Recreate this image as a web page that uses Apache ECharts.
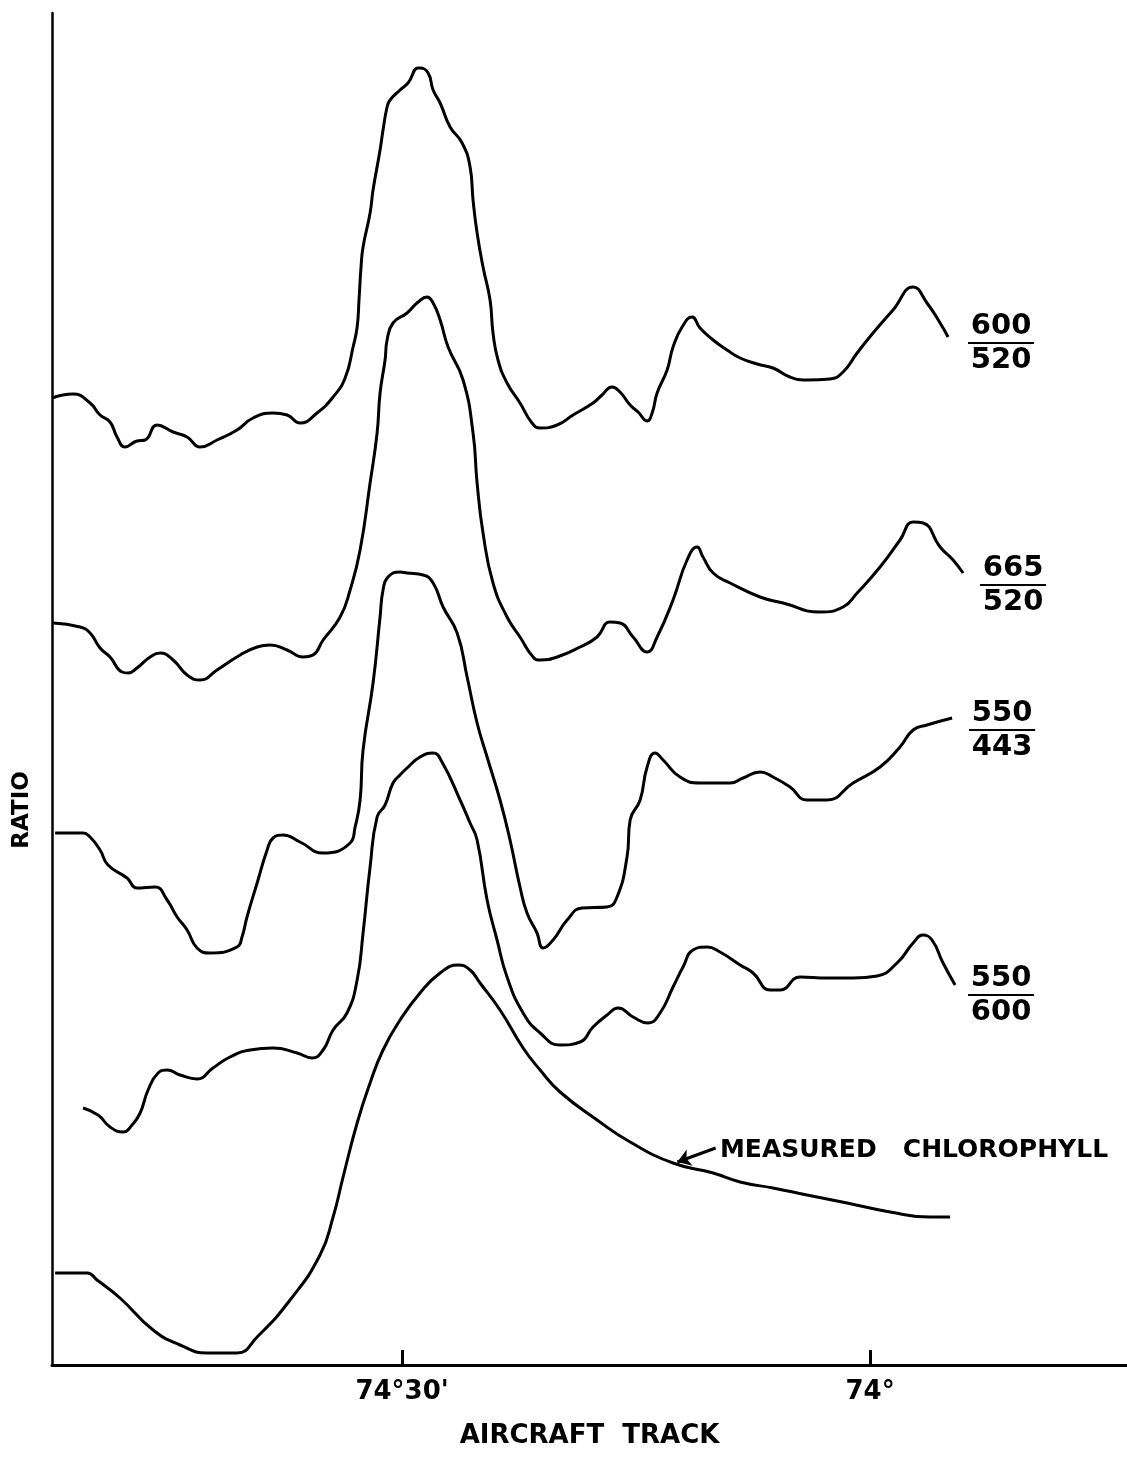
<!DOCTYPE html>
<html><head><meta charset="utf-8">
<script src="https://cdn.jsdelivr.net/npm/echarts@6.0.0/dist/echarts.min.js"></script>
<style>html,body{margin:0;padding:0;background:#fff}#c{width:1127px;height:1457px}</style>
</head><body><div id="c"></div>
<script>
// x: longitude along aircraft track, minutes west of 74°  (30 = 74°30')
// y: ratio (arbitrary offset units)
const tickValues = [30, 0];
const tickLabels = ["74°30'", "74°"];
const seriesNames = ['600/520', '665/520', '550/443', '550/600', 'MEASURED CHLOROPHYLL'];

const ratio600_520 = [[52.44,96.7],[51.09,97.1],[50.0,96.2],[49.36,95.0],[48.72,94.3],[48.27,92.8],[47.76,91.8],[46.99,92.4],[46.47,92.5],[45.71,94.0],[44.68,93.3],[43.78,92.8],[42.95,91.8],[41.86,92.5],[40.58,93.5],[39.55,94.7],[38.27,95.2],[37.37,95.0],[36.54,94.2],[35.45,95.2],[34.42,96.8],[33.65,98.7],[33.14,101.8],[32.88,103.8],[32.76,106.5],[32.63,109.8],[32.50,111.8],[32.05,115.2],[31.86,117.5],[31.41,121.5],[31.22,123.5],[30.96,125.8],[30.77,126.5],[30.13,127.5],[29.62,128.2],[28.97,129.7],[28.85,129.7],[28.33,129.2],[28.01,127.5],[27.56,126.2],[26.92,123.8],[26.15,122.2],[25.64,119.8],[25.45,116.5],[25.19,113.2],[24.81,109.8],[24.36,106.5],[24.17,103.2],[23.85,100.5],[23.27,98.2],[22.44,96.2],[21.67,94.2],[21.15,93.7],[20.06,94.0],[19.04,95.0],[17.76,96.2],[17.18,97.0],[16.54,97.8],[16.03,97.3],[15.38,96.0],[14.87,95.3],[14.29,94.4],[13.97,95.2],[13.65,97.2],[13.01,99.5],[12.63,101.8],[12.05,103.8],[11.41,104.8],[10.90,103.7],[10.06,102.5],[9.17,101.5],[8.33,100.7],[7.24,100.1],[6.22,99.7],[5.13,98.8],[4.04,98.5],[2.56,98.6],[1.73,99.3],[0.83,101.2],[-0.19,103.2],[-1.47,105.5],[-2.76,107.8],[-3.65,106.2],[-4.49,104.2],[-5.0,102.8]];

const ratio665_520 = [[52.37,74.2],[50.64,73.8],[50.0,73.2],[49.36,71.7],[48.72,70.8],[47.95,69.3],[47.56,69.2],[46.99,69.7],[46.15,70.8],[45.51,71.2],[44.68,70.5],[43.78,69.0],[42.95,68.5],[41.86,69.5],[40.38,71.0],[39.29,71.8],[38.46,72.0],[37.37,71.5],[36.35,70.8],[35.71,71.0],[35.06,72.5],[33.97,74.8],[33.33,77.5],[32.69,81.5],[32.05,88.2],[31.60,93.2],[31.41,97.2],[31.09,100.5],[30.96,102.5],[30.58,104.2],[29.68,105.2],[28.97,106.3],[28.40,106.8],[28.01,106.2],[27.56,104.5],[27.05,101.8],[26.09,98.5],[25.45,93.2],[25.19,88.2],[24.81,83.2],[24.17,78.2],[23.27,74.8],[22.44,72.8],[21.60,70.8],[21.15,70.5],[20.06,70.8],[18.59,71.8],[17.50,72.8],[16.67,74.3],[16.03,74.2],[15.19,72.8],[14.29,71.3],[13.65,72.8],[12.63,76.5],[11.73,80.5],[11.09,81.8],[10.71,80.8],[10.06,79.2],[8.97,78.2],[7.05,76.8],[5.58,76.2],[3.21,75.3],[1.73,75.8],[0.83,77.2],[-0.64,79.8],[-1.92,82.5],[-2.76,84.3],[-3.40,84.2],[-4.49,81.8],[-5.32,80.5],[-5.96,79.2]];

const ratio550_443 = [[52.24,53.2],[50.45,53.2],[50.0,52.8],[49.36,51.5],[48.85,50.0],[47.63,48.7],[46.99,47.7],[45.83,47.8],[45.06,46.5],[44.42,44.8],[43.78,43.5],[43.14,41.7],[42.31,41.2],[40.58,41.8],[40.26,42.8],[39.94,44.8],[39.29,48.2],[38.65,51.5],[38.27,52.7],[37.63,53.0],[36.54,52.3],[35.06,51.2],[33.33,52.2],[33.01,53.8],[32.69,56.5],[32.50,61.5],[31.86,68.2],[31.41,74.8],[31.22,77.5],[30.90,78.8],[30.13,79.3],[29.68,79.2],[28.65,79.0],[28.01,78.2],[27.37,75.8],[26.47,73.2],[25.83,68.8],[25.19,64.2],[24.55,60.8],[23.72,56.5],[23.08,52.5],[22.44,47.8],[21.99,45.2],[21.35,43.2],[20.96,41.7],[20.32,42.5],[19.42,44.5],[18.46,45.7],[16.86,45.8],[16.22,46.8],[15.58,50.8],[15.38,54.5],[14.74,56.5],[14.29,59.8],[13.78,61.2],[13.27,60.5],[12.18,58.8],[10.90,58.2],[8.97,58.2],[8.14,58.7],[7.05,59.3],[6.22,58.8],[5.13,57.8],[4.04,56.5],[2.76,56.5],[1.09,58.2],[-0.64,59.8],[-1.92,61.8],[-2.76,63.5],[-3.65,64.0],[-5.26,64.7]];

const ratio550_600 = [[50.45,25.7],[49.49,25.0],[48.72,23.8],[47.88,23.3],[47.31,24.0],[46.79,25.2],[46.28,27.5],[45.64,29.2],[45.06,29.5],[44.23,29.0],[43.14,28.6],[42.12,29.7],[41.03,30.8],[39.74,31.5],[38.27,31.7],[36.73,31.2],[35.77,30.7],[35.06,31.5],[34.42,33.5],[33.53,35.2],[32.88,38.5],[32.50,43.2],[32.05,49.8],[31.60,54.8],[31.09,56.0],[30.58,58.2],[30.13,59.0],[29.68,59.7],[28.85,60.8],[28.01,61.2],[27.44,60.3],[26.28,56.5],[25.64,54.2],[25.19,52.5],[24.55,46.5],[23.91,42.5],[23.27,38.8],[22.24,35.2],[21.15,33.2],[19.87,32.0],[18.59,32.3],[17.76,33.8],[16.86,35.0],[16.15,35.7],[15.19,34.8],[14.23,34.2],[13.46,35.2],[12.63,37.8],[11.99,39.8],[11.35,41.5],[10.45,41.8],[9.62,41.3],[8.33,40.0],[7.50,39.2],[6.41,37.5],[5.77,37.5],[4.49,38.8],[2.76,38.7],[1.09,38.7],[-0.45,38.9],[-1.73,40.2],[-2.76,42.2],[-3.40,43.0],[-3.97,42.5],[-4.68,40.2],[-5.45,38.0]];

const chlorophyll = [[52.24,9.2],[50.19,9.2],[49.55,8.5],[48.08,6.7],[45.96,3.5],[44.23,2.0],[42.50,1.2],[40.58,1.2],[39.29,2.8],[37.18,6.5],[35.26,11.0],[34.42,14.8],[33.78,18.8],[32.88,24.2],[32.05,28.2],[31.22,31.5],[30.13,34.5],[28.85,37.2],[27.56,39.2],[26.41,40.0],[25.64,39.5],[25.0,38.2],[23.72,35.5],[22.24,31.7],[21.15,29.5],[19.87,27.3],[17.50,24.5],[15.38,22.3],[12.63,20.2],[10.06,19.2],[8.33,18.3],[6.22,17.7],[4.04,17.0],[1.47,16.2],[-1.28,15.3],[-3.85,14.8],[-5.13,14.8]];

// annotation anchor points (data units)
const chlLabelAt = [9.62, 21.5];
const chlArrowFrom = [9.9, 21.7];
const chlArrowTo = [12.35, 20.3];

const FONT = 'DejaVu Sans';
const ratioData = [ratio600_520, ratio665_520, ratio550_443, ratio550_600];
const labelOffsets = [[20, 6], [17, 12], [17, 12], [13, 10]];

function fracLabel(name, off) {
  const parts = name.split('/');
  return {
    show: true, position: 'right', distance: 0, offset: off, align: 'left', verticalAlign: 'middle',
    formatter: '{n|' + parts[0] + '}\n{hr|}\n{d|' + parts[1] + '}',
    rich: {
      n: {fontFamily: FONT, fontWeight: 'bold', fontSize: 29, color: '#000', lineHeight: 28, align: 'center'},
      hr: {width: 66, height: 0, borderWidth: 2, borderColor: '#000', lineHeight: 6, align: 'center'},
      d: {fontFamily: FONT, fontWeight: 'bold', fontSize: 29, color: '#000', lineHeight: 28, align: 'center'}
    }
  };
}

const series = ratioData.map((d, i) => ({
  name: seriesNames[i], type: 'line', data: d, smooth: 0.5, symbol: 'none',
  lineStyle: {color: '#000', width: 3},
  markPoint: {
    silent: true, symbol: 'circle', symbolSize: 0,
    data: [{coord: d[d.length - 1], label: fracLabel(seriesNames[i], labelOffsets[i])}]
  }
}));

series.push({
  name: seriesNames[4], type: 'line', data: chlorophyll, smooth: 0.5, symbol: 'none',
  lineStyle: {color: '#000', width: 3},
  markPoint: {
    silent: true, symbol: 'circle', symbolSize: 0,
    data: [{coord: chlLabelAt, label: {show: true, position: 'right', distance: 0, formatter: 'MEASURED   CHLOROPHYLL',
      fontFamily: FONT, fontWeight: 'bold', fontSize: 25, color: '#000', verticalAlign: 'middle'}}]
  },
  markLine: {
    silent: true, symbol: ['none', 'arrow'], symbolSize: 13,
    lineStyle: {color: '#000', width: 3, type: 'solid', curveness: -0.25},
    label: {show: false},
    data: [[{coord: chlArrowFrom}, {coord: chlArrowTo}]]
  }
});

const chart = echarts.init(document.getElementById('c'), null, {renderer: 'canvas'});
chart.setOption({
  animation: false,
  backgroundColor: '#fff',
  grid: {left: 52, right: 0, top: 13, bottom: 92, containLabel: false},
  xAxis: {
    type: 'value', inverse: true, min: -16.47, max: 52.44,
    name: 'AIRCRAFT  TRACK', nameLocation: 'middle', nameGap: 58,
    nameTextStyle: {fontFamily: FONT, fontWeight: 'bold', fontSize: 26, color: '#000'},
    axisLine: {show: true, onZero: false, lineStyle: {color: '#000', width: 3}},
    axisTick: {show: true, inside: true, length: 15, customValues: tickValues, lineStyle: {color: '#000', width: 3}},
    axisLabel: {show: true, customValues: tickValues, margin: 14, fontFamily: FONT, fontWeight: 'bold', fontSize: 26, color: '#000',
      formatter: v => tickLabels[tickValues.indexOf(v)]},
    splitLine: {show: false}
  },
  yAxis: {
    type: 'value', min: 0, max: 135.2,
    name: 'RATIO', nameLocation: 'middle', nameGap: 18,
    nameTextStyle: {fontFamily: FONT, fontWeight: 'bold', fontSize: 23, color: '#000', padding: [0, 242, 0, 0]},
    axisLine: {show: true, onZero: false, lineStyle: {color: '#000', width: 2.5}},
    axisTick: {show: false}, axisLabel: {show: false}, splitLine: {show: false}
  },
  series: series
});
</script>
</body></html>
